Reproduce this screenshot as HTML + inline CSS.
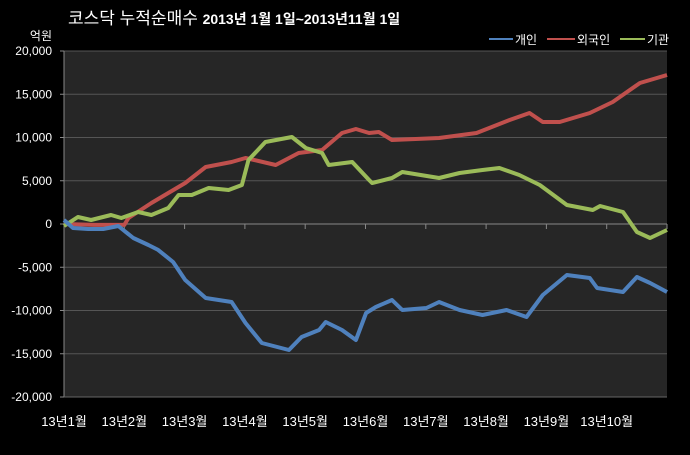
<!DOCTYPE html>
<html><head><meta charset="utf-8"><style>
body{margin:0;background:#000;width:690px;height:450px;overflow:hidden;font-family:"Liberation Sans","Noto Sans CJK KR",sans-serif}
svg text{font-family:"Liberation Sans","Noto Sans CJK KR",sans-serif}
</style></head><body>
<svg id="c" width="690" height="450">
<text x="68" y="24" fill="#fff" font-size="17">코스닥 누적순매수 <tspan font-size="14" font-weight="bold">2013년 1월 1일~2013년11월 1일</tspan></text>
<text x="52" y="40" fill="#fff" font-size="12" text-anchor="end">억원</text>
<g>
<line x1="489" y1="39" x2="513" y2="39" stroke="#4f81bd" stroke-width="2"/>
<text x="515" y="44" fill="#fff" font-size="12">개인</text>
<line x1="547" y1="39" x2="575" y2="39" stroke="#c0504d" stroke-width="2"/>
<text x="577" y="44" fill="#fff" font-size="12">외국인</text>
<line x1="620" y1="39" x2="645" y2="39" stroke="#9bbb59" stroke-width="2"/>
<text x="647" y="44" fill="#fff" font-size="12">기관</text>
</g>
<rect x="64" y="51" width="603" height="346" fill="#262626"/>
<g id="grid"></g><g id="series"></g>
</svg>
<script>
const yTicks=[20000,15000,10000,5000,0,-5000,-10000,-15000,-20000];
const yTickLabels=["20,000","15,000","10,000","5,000","0","-5,000","-10,000","-15,000","-20,000"];
const monthLabels=["13년1월","13년2월","13년3월","13년4월","13년5월","13년6월","13년7월","13년8월","13년9월","13년10월"];
const indivMonths=[0,0.15,0.4,0.65,0.9,1.15,1.4,1.56,1.81,2.01,2.35,2.78,3.01,3.28,3.73,3.94,4.23,4.34,4.61,4.84,5.01,5.17,5.44,5.61,6.01,6.22,6.56,6.94,7.34,7.67,7.94,8.34,8.72,8.84,9.27,9.5,9.72,10];
const indivValues=[460,-460,-580,-580,-230,-1620,-2430,-3000,-4390,-6470,-8550,-9020,-11440,-13760,-14570,-13060,-12250,-11330,-12250,-13410,-10290,-9590,-8790,-9940,-9710,-9020,-9940,-10520,-9940,-10750,-8210,-5900,-6240,-7400,-7860,-6130,-6820,-7860];
const foreignMonths=[0,0.5,1,1.07,1.45,2.01,2.35,2.78,3.01,3.51,3.89,4.28,4.61,4.84,5.06,5.22,5.44,6.22,6.84,7.39,7.72,7.94,8.22,8.72,9.1,9.55,10];
const foreignValues=[0,-100,-100,690,2430,4740,6590,7170,7630,6820,8210,8550,10520,10980,10520,10640,9710,9940,10520,12020,12830,11790,11790,12830,14100,16300,17230];
const instMonths=[0,0.23,0.45,0.78,0.95,1.23,1.45,1.73,1.9,2.12,2.4,2.73,2.95,3.06,3.34,3.78,4.01,4.28,4.39,4.78,5.06,5.11,5.44,5.61,6.22,6.56,6.94,7.22,7.55,7.89,8.34,8.77,8.89,9.27,9.5,9.72,10];
const instValues=[-230,810,460,1040,690,1390,1040,1850,3350,3350,4160,3930,4510,7400,9480,10060,8790,8210,6820,7170,5090,4740,5320,6010,5320,5900,6240,6470,5660,4510,2200,1620,2080,1390,-920,-1620,-690];
const X0=64,X1=667,Y0=51,Y1=397;
const xs=m=>X0+(X1-X0)*m/10;
const ys=v=>Y0+(20000-v)/40000*(Y1-Y0);
const NS="http://www.w3.org/2000/svg";
const g=document.getElementById('grid'),s=document.getElementById('series');
function mk(t,a,p){const e=document.createElementNS(NS,t);for(const k in a)e.setAttribute(k,a[k]);(p||g).appendChild(e);return e;}
yTicks.forEach((v,i)=>{
  if(v!==0&&v!==-20000){const l=mk('line',{x1:X0,x2:X1,y1:ys(v),y2:ys(v),stroke:'#555','stroke-width':1});
  
  }
  const tk=mk('line',{x1:X0-4,x2:X0,y1:ys(v),y2:ys(v),stroke:'#888'});
  
  
  const t=mk('text',{x:X0-12,y:ys(v)+4,fill:'#fff','font-size':12,'text-anchor':'end'});
  t.textContent=yTickLabels[i];
  
  
});
const ax=mk('line',{x1:X0,x2:X0,y1:Y0,y2:Y1,stroke:'#888'});


const zx=mk('line',{x1:X0,x2:X1,y1:ys(0),y2:ys(0),stroke:'#888'});


const bx=mk('line',{x1:X0,x2:X1,y1:Y1,y2:Y1,stroke:'#666'});


for(let m=0;m<=10;m++){const t=mk('line',{x1:xs(m),x2:xs(m),y1:ys(0),y2:ys(0)+5,stroke:'#888'});

}
monthLabels.forEach((lb,i)=>{
  const t=mk('text',{x:xs(i),y:426,fill:'#fff','font-size':13,'text-anchor':'middle'});
  t.textContent=lb;
  
  
});
function line(ms,vs,col,name){
  const d=ms.map((m,i)=>(i?'L':'M')+xs(m).toFixed(1)+','+ys(vs[i]).toFixed(1)).join('');
  const p=mk('path',{d:d,fill:'none',stroke:col,'stroke-width':4,'stroke-linejoin':'round'},s);
  
  
}
line(foreignMonths,foreignValues,'#c0504d','series-foreign');
line(instMonths,instValues,'#9bbb59','series-institution');
line(indivMonths,indivValues,'#4f81bd','series-individual');
</script>
</body></html>
